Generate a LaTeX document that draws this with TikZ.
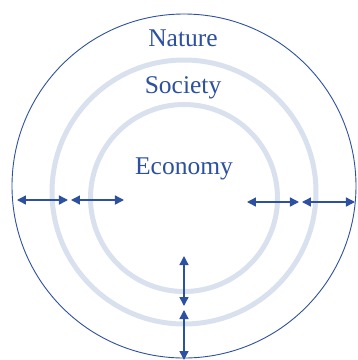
\documentclass[tikz,border=0pt]{standalone}
\usepackage{fontspec}
\setmainfont{Liberation Serif}
\usetikzlibrary{arrows.meta}
\definecolor{dblue}{RGB}{45,80,160}
\definecolor{ring}{RGB}{218,225,238}
\tikzset{
  lbl/.style={text=dblue, font=\fontsize{25.5}{30}\selectfont, inner sep=0pt, anchor=base},
  ringline/.style={draw=ring, line width=5pt},
  dbl/.style={draw=dblue, line width=1.4pt, {Triangle[length=9pt,width=9pt]}-{Triangle[length=9pt,width=9pt]}}
}
\begin{document}
\begin{tikzpicture}[x=1pt,y=-1pt]
\useasboundingbox (0,0) rectangle (358,360);
\fill[white] (0,0) rectangle (358,360);
\begin{scope}
\clip (0,0) rectangle (358,360);
\draw[ringline] (184,192) circle[radius=132];
\draw[ringline] (184,198) circle[radius=93.5];
\draw[dblue, line width=0.9pt] (184,186) circle[radius=172];
\end{scope}
\node[lbl] (nature) at (183,46) {Nature};
\node[lbl] (society) at (183,93) {Society};
\node[lbl] (economy) at (184,174) {Economy};
\coordinate (l1) at (17,200);
\coordinate (l2) at (68,200);
\coordinate (l3) at (71,200);
\coordinate (l4) at (124,200);
\coordinate (r1) at (247,202);
\coordinate (r2) at (299,202);
\coordinate (r3) at (302,202);
\coordinate (r4) at (355,202);
\coordinate (v1) at (184,256);
\coordinate (v2) at (184,306);
\coordinate (v3) at (184,310);
\coordinate (v4) at (184,360);
\draw[dbl] (l1) -- (l2);
\draw[dbl] (l3) -- (l4);
\draw[dbl] (r1) -- (r2);
\draw[dbl] (r3) -- (r4);
\draw[dbl] (v1) -- (v2);
\draw[dbl] (v3) -- (v4);
\end{tikzpicture}
\end{document}
